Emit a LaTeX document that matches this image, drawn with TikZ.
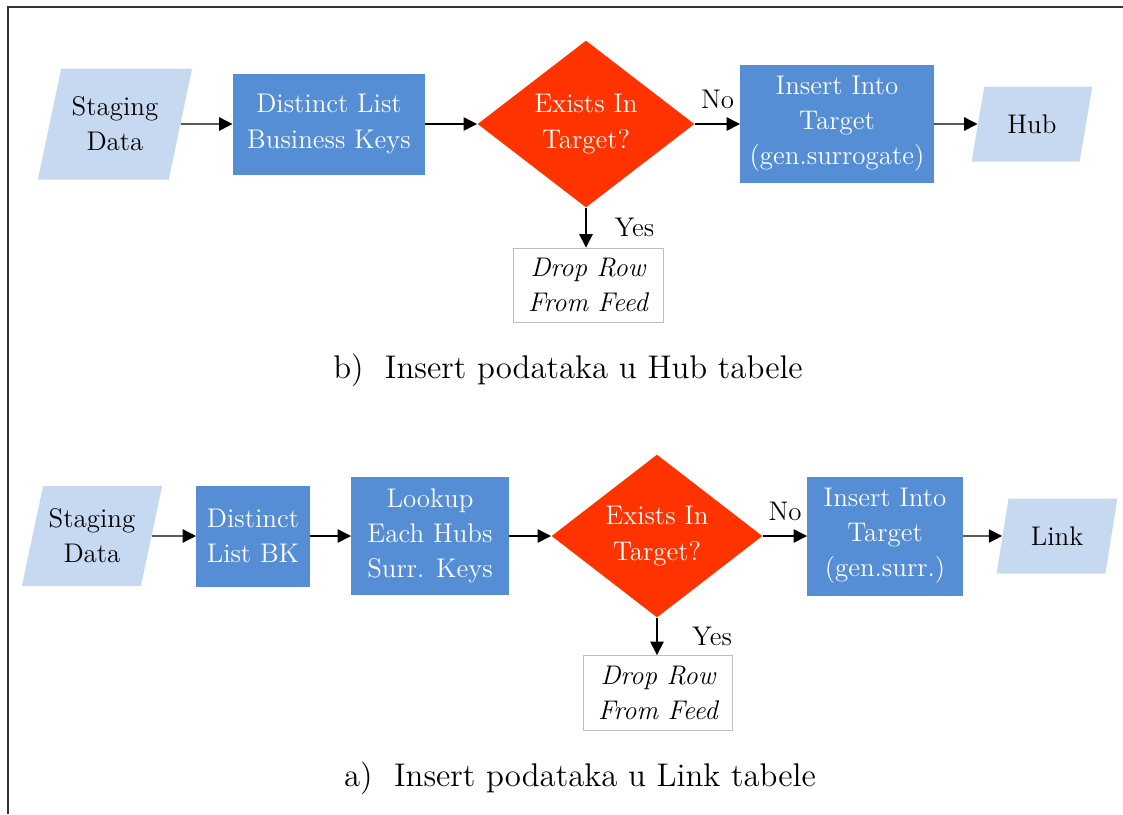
\documentclass[tikz,border=0pt]{standalone}
\usepackage{tikz}
\usetikzlibrary{arrows.meta, positioning, shapes.geometric}

\definecolor{procblue}{HTML}{558ED5}
\definecolor{datablue}{HTML}{C6D9F1}
\definecolor{decred}{HTML}{FF3300}
\newcommand{\flowfont}{\fontsize{11.5}{15}\selectfont}
\newcommand{\captfont}{\fontsize{14}{17}\selectfont}

\tikzset{
  datastore/.style={trapezium, trapezium left angle=71, trapezium right angle=109,
    trapezium stretches=true, fill=datablue, align=center, font=\flowfont, inner sep=0pt},
  process/.style={rectangle, fill=procblue, text=white, align=center, font=\flowfont, inner sep=0pt},
  decision/.style={diamond, fill=decred, text=white, align=center, font=\flowfont, inner sep=0pt},
  dropbox/.style={rectangle, draw=black!25, fill=white, align=center,
    font=\flowfont\itshape, inner sep=0pt},
  flow/.style={-{Triangle[length=2mm, width=2mm]}, semithick, font=\flowfont},
}

\begin{document}
\begin{tikzpicture}[x=0.015cm, y=-0.015cm]
\useasboundingbox (0,0) rectangle (1123,814);

% Frame
\draw[line width=0.9pt, black!80] (8,814) -- (8,7) -- (1123,7);

% b) Hub
\node[datastore, minimum width=2.325cm, minimum height=1.665cm] (stageA) at (115,124) {Staging\\Data};
\node[process, minimum width=2.88cm, minimum height=1.515cm] (distA) at (329,124) {Distinct List\\Business Keys};
\node[decision, minimum width=3.255cm, minimum height=2.505cm] (existA) at (586,124) {Exists In\\Target?};
\node[process, minimum width=2.895cm, minimum height=1.77cm] (insA) at (837,124) {Insert Into\\Target\\(gen.surrogate)};
\node[datastore, minimum width=1.815cm, minimum height=1.125cm] (hubA) at (1032,124) {Hub};
\node[dropbox, minimum width=2.25cm, minimum height=1.11cm] (dropA) at (588,285) {Drop Row\\From Feed};

\draw[flow] (stageA) -- (distA);
\draw[flow] (distA) -- (existA);
\draw[flow] (existA) -- node[above=1mm] {No} (insA);
\draw[flow] (insA) -- (hubA);
\draw[flow] (existA.south) -- node[right=3mm] {Yes} (existA.south |- dropA.north);

\node[font=\captfont] (captB) at (568,370) {b)\ \ Insert podataka u Hub tabele};

% a) Link
\node[datastore, minimum width=2.115cm, minimum height=1.5cm] (stageB) at (92,536) {Staging\\Data};
\node[process, minimum width=1.695cm, minimum height=1.515cm] (distB) at (253,536) {Distinct\\List BK};
\node[process, minimum width=2.355cm, minimum height=1.77cm] (lookB) at (430,536) {Lookup\\Each Hubs\\Surr. Keys};
\node[decision, minimum width=3.165cm, minimum height=2.445cm] (existB) at (657,536) {Exists In\\Target?};
\node[process, minimum width=2.325cm, minimum height=1.785cm] (insB) at (885,536) {Insert Into\\Target\\(gen.surr.)};
\node[datastore, minimum width=1.815cm, minimum height=1.125cm] (linkB) at (1057,536) {Link};
\node[dropbox, minimum width=2.235cm, minimum height=1.125cm] (dropB) at (658,693) {Drop Row\\From Feed};

\draw[flow] (stageB) -- (distB);
\draw[flow] (distB) -- (lookB);
\draw[flow] (lookB) -- (existB);
\draw[flow] (existB) -- node[above=1mm] {No} (insB);
\draw[flow] (insB) -- (linkB);
\draw[flow] (existB.south) -- node[right=4mm] {Yes} (existB.south |- dropB.north);

\node[font=\captfont] (captA) at (580,778) {a)\ \ Insert podataka u Link tabele};
\end{tikzpicture}
\end{document}
